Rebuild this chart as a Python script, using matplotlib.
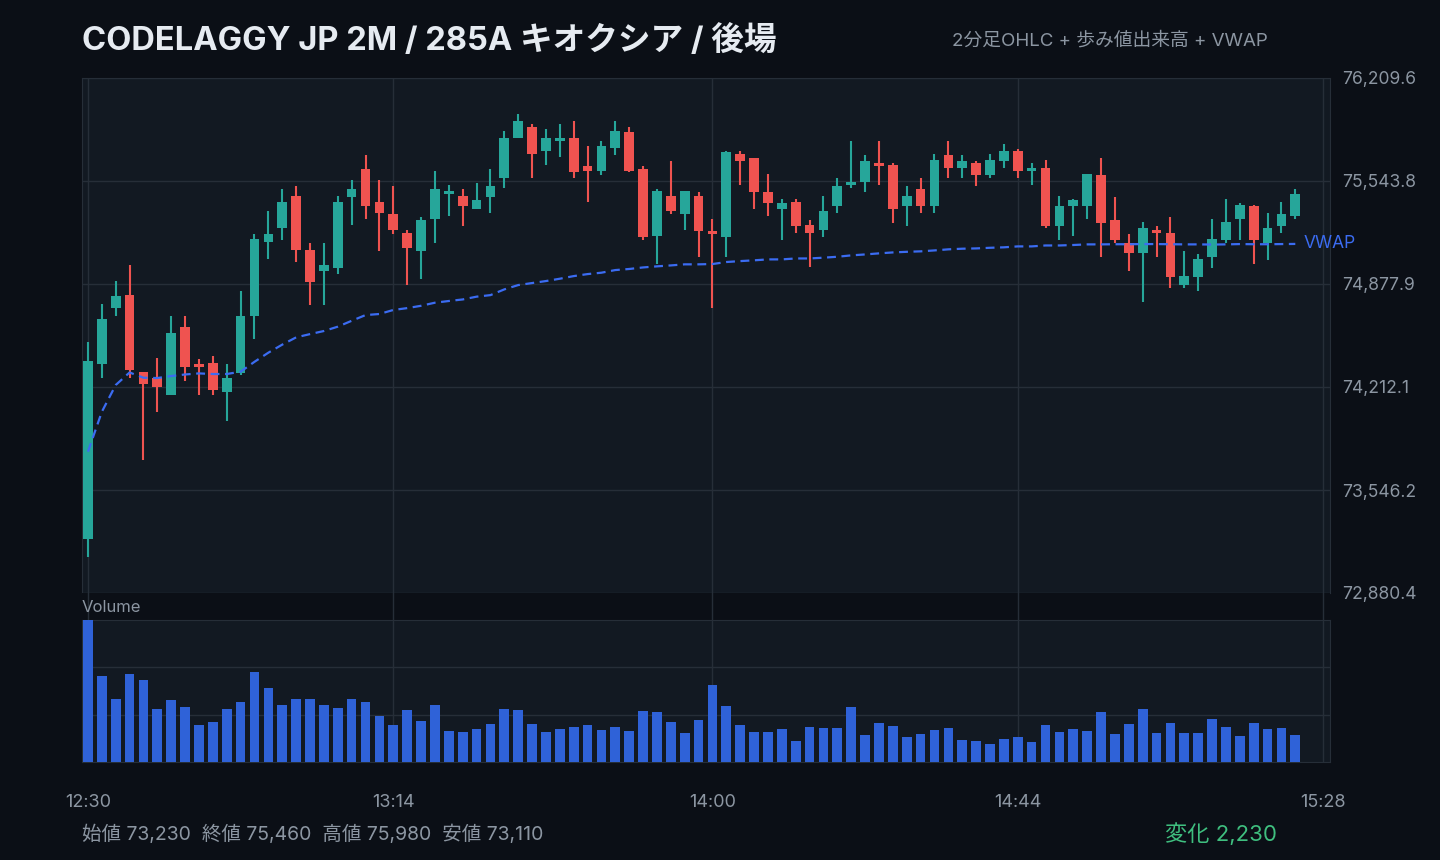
import matplotlib
matplotlib.use("Agg")
import matplotlib.pyplot as plt
import numpy as np

plt.rcParams['font.family'] = ['Inter', 'Noto Sans CJK JP', 'DejaVu Sans']

# 2分足 OHLC (12:30 - 15:24)
opens = [73230, 74360, 74720, 74810, 74310, 74270, 74160, 74600, 74360, 74370,
         74180, 74300, 74670, 75150, 75240, 75450, 75100, 74960, 74980, 75440,
         75620, 75410, 75330, 75210, 75090, 75300, 75460, 75450, 75360, 75440,
         75560, 75820, 75890, 75740, 75800, 75820, 75640, 75610, 75760, 75860,
         75620, 75190, 75450, 75330, 75450, 75220, 75180, 75720, 75690, 75470,
         75360, 75410, 75260, 75230, 75380, 75520, 75540, 75660, 75650, 75380,
         75490, 75380, 75710, 75630, 75660, 75580, 75670, 75740, 75610, 75630,
         75250, 75380, 75380, 75580, 75290, 75140, 75080, 75230, 75210, 74870,
         74920, 75050, 75160, 75300, 75380, 75140, 75250, 75320]
highs = [74500, 74750, 74900, 75000, 74310, 74400, 74670, 74670, 74390, 74410,
         74360, 74830, 75200, 75350, 75490, 75510, 75140, 75140, 75450, 75550,
         75710, 75550, 75510, 75230, 75310, 75610, 75520, 75490, 75530, 75620,
         75870, 75980, 75910, 75880, 75910, 75930, 75770, 75800, 75930, 75890,
         75640, 75490, 75670, 75480, 75470, 75300, 75740, 75740, 75690, 75590,
         75430, 75430, 75290, 75450, 75560, 75800, 75710, 75800, 75660, 75510,
         75560, 75720, 75800, 75710, 75670, 75720, 75780, 75750, 75660, 75680,
         75450, 75430, 75590, 75690, 75440, 75200, 75280, 75250, 75310, 75090,
         75070, 75300, 75430, 75400, 75390, 75340, 75410, 75490]
lows = [73110, 74270, 74670, 74270, 73740, 74050, 74160, 74250, 74160, 74160,
        73990, 74290, 74520, 75040, 75160, 75020, 74740, 74740, 74940, 75260,
        75300, 75090, 75200, 74870, 74910, 75140, 75320, 75250, 75360, 75340,
        75500, 75820, 75560, 75650, 75700, 75560, 75410, 75580, 75710, 75600,
        75160, 75010, 75330, 75230, 75050, 74720, 75050, 75520, 75360, 75320,
        75160, 75210, 74990, 75180, 75340, 75500, 75470, 75520, 75270, 75250,
        75340, 75340, 75560, 75560, 75510, 75560, 75630, 75560, 75520, 75240,
        75160, 75190, 75300, 75050, 75140, 74960, 74760, 75050, 74850, 74850,
        74830, 74980, 75140, 75160, 75010, 75030, 75210, 75300]
closes = [74380, 74650, 74800, 74320, 74230, 74210, 74560, 74340, 74340, 74190,
          74270, 74670, 75170, 75200, 75410, 75100, 74890, 75000, 75410, 75490,
          75380, 75340, 75230, 75110, 75290, 75490, 75480, 75380, 75420, 75510,
          75820, 75930, 75720, 75820, 75820, 75600, 75610, 75770, 75870, 75610,
          75180, 75480, 75350, 75480, 75220, 75200, 75730, 75670, 75470, 75400,
          75400, 75250, 75210, 75350, 75510, 75540, 75670, 75640, 75360, 75450,
          75380, 75680, 75630, 75670, 75580, 75680, 75740, 75610, 75630, 75250,
          75380, 75420, 75590, 75270, 75160, 75080, 75240, 75210, 74920, 74930,
          75040, 75170, 75280, 75390, 75160, 75240, 75330, 75460]

# 歩み値出来高
volumes = [42700, 25900, 19000, 26500, 24700, 16000, 18700, 16600, 11200, 12100,
           16000, 18100, 27100, 22300, 17200, 19000, 19000, 17200, 16300, 19000,
           18100, 13900, 11200, 15700, 12400, 17200, 9400, 9100, 10000, 11500,
           16000, 15700, 11500, 9100, 10000, 10600, 11200, 9700, 10600, 9400,
           15400, 15100, 12100, 8800, 12700, 23200, 16900, 11200, 9100, 9100,
           10000, 6400, 10600, 10300, 10300, 16600, 8200, 11800, 10900, 7600,
           8500, 9700, 10300, 6700, 6400, 5500, 7000, 7600, 6100, 11200,
           9100, 10000, 9400, 15100, 8500, 11500, 16000, 8800, 11800, 8800,
           8800, 13000, 10600, 7900, 11800, 10000, 10300, 8200]

vwap = [73794, 74052, 74225, 74306, 74272, 74270, 74283, 74293, 74300, 74296,
        74296, 74311, 74375, 74434, 74486, 74533, 74554, 74574, 74602, 74640,
        74677, 74684, 74710, 74722, 74737, 74757, 74768, 74778, 74796, 74806,
        74843, 74871, 74884, 74897, 74912, 74929, 74942, 74951, 74968, 74975,
        74985, 74992, 74998, 75005, 75005, 75007, 75020, 75026, 75031, 75037,
        75037, 75043, 75043, 75048, 75054, 75063, 75069, 75076, 75082, 75086,
        75089, 75095, 75102, 75106, 75108, 75112, 75115, 75121, 75121, 75127,
        75127, 75130, 75134, 75134, 75135, 75135, 75136, 75136, 75135, 75134,
        75134, 75133, 75134, 75136, 75135, 75135, 75136, 75137]

tick_times = ["12:30", "13:14", "14:00", "14:44", "15:28"]

# 色
BG = '#0b0f16'
PANEL = '#121922'
GRID = '#262e38'
TXT = '#8c96a2'
UP = '#26a69a'
DOWN = '#ef5350'
VOLC = '#2f62d8'
VWAPC = '#3b6cf2'

o = np.array(opens); h = np.array(highs); l = np.array(lows); c = np.array(closes)
x = np.arange(len(o))
tick_pos = [(int(t[:2]) * 60 + int(t[3:]) - 750) / 2 for t in tick_times]
xlim = (-0.43, 89.5)

fig = plt.figure(figsize=(14.4, 8.6), dpi=100, facecolor=BG)
W, H = 1440, 860
ax = fig.add_axes([82 / W, 1 - 593 / H, 1248 / W, 515 / H])
strip = fig.add_axes([82 / W, 1 - 620 / H, 1248 / W, 27 / H])
axv = fig.add_axes([82 / W, 1 - 762 / H, 1248 / W, 142 / H])

# ローソク足
cols = np.where(c >= o, UP, DOWN)
ax.vlines(x, l, h, colors=cols, linewidth=1.5, zorder=3)
ax.bar(x, np.maximum(np.abs(c - o), 15), bottom=np.minimum(o, c), width=0.7,
       color=cols, zorder=4)
ax.plot(x, vwap, color=VWAPC, lw=1.6, dashes=(4, 2.5), zorder=5)
ax.text(x[-1] + 0.6, vwap[-1], "VWAP", color=VWAPC, fontsize=12.5,
        va='center', ha='left')

lo, hi = l.min(), h.max()
pad = (hi - lo) * 0.08
ax.set_ylim(lo - pad, hi + pad)
ax.set_yticks(np.linspace(lo - pad, hi + pad, 6))
ax.yaxis.set_major_formatter(plt.FuncFormatter(lambda v, p: f"{v:,.1f}"))
ax.yaxis.tick_right()
ax.set_xlim(*xlim)
ax.set_xticks(tick_pos)
ax.set_xticklabels([])
ax.set_facecolor(PANEL)
ax.grid(color=GRID, lw=1, zorder=0)
ax.set_axisbelow(True)
ax.tick_params(length=0, labelsize=12.6, labelcolor=TXT, pad=9)
for s in ax.spines.values():
    s.set_color(GRID)

# 間の帯
strip.set_facecolor(BG)
strip.set_xlim(*xlim)
strip.set_xticks(tick_pos)
strip.set_xticklabels([])
strip.set_yticks([])
strip.grid(axis='x', color=GRID, lw=1)
strip.tick_params(length=0)
for s in strip.spines.values():
    s.set_visible(False)
strip.text(0, 0.45, "Volume", transform=strip.transAxes, color=TXT,
           fontsize=12, va='center', ha='left')

# 出来高
vmax = max(volumes)
axv.bar(x, volumes, width=0.7, color=VOLC, zorder=3)
axv.set_xlim(*xlim)
axv.set_ylim(0, vmax)
axv.set_yticks([vmax / 3, vmax * 2 / 3])
axv.set_yticklabels([])
axv.set_xticks(tick_pos)
axv.set_xticklabels(tick_times)
axv.set_facecolor(PANEL)
axv.grid(color=GRID, lw=1, zorder=0)
axv.set_axisbelow(True)
axv.tick_params(length=0, labelsize=13, labelcolor=TXT, pad=23)
for s in axv.spines.values():
    s.set_color(GRID)

# テキスト
fig.text(82 / W, 1 - 41 / H, "CODELAGGY JP 2M / 285A キオクシア / 後場",
         color='#e6ebf1', fontsize=23.5, fontweight='bold', va='center', ha='left')
fig.text(1268 / W, 1 - 41 / H, "2分足OHLC + 歩み値出来高 + VWAP",
         color=TXT, fontsize=13.5, va='center', ha='right')
fig.text(82 / W, 1 - 834 / H,
         f"始値 {opens[0]:,}  終値 {closes[-1]:,}  高値 {hi:,}  安値 {lo:,}",
         color=TXT, fontsize=14, va='center', ha='left')
fig.text(1277 / W, 1 - 834 / H, f"変化 {closes[-1] - opens[0]:,}",
         color='#3fbf7f', fontsize=16, va='center', ha='right')

fig.savefig("out.png", dpi=100, facecolor=BG)
